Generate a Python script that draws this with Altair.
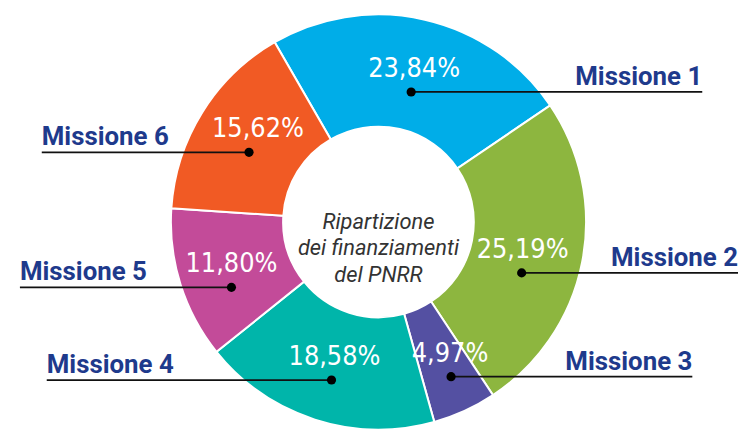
import math
import numpy as np
import pandas as pd
import altair as alt

# ---------------- data ----------------
missioni = ["Missione 1", "Missione 2", "Missione 3", "Missione 4", "Missione 5", "Missione 6"]
quote = [23.84, 25.19, 4.97, 18.58, 11.80, 15.62]
etichette = ["23,84%", "25,19%", "4,97%", "18,58%", "11,80%", "15,62%"]
colori = ["#00ADE8", "#8DB63F", "#5450A2", "#00B5AA", "#C34B99", "#F15A24"]
titolo_centro = ["Ripartizione", "dei finanziamenti", "del PNRR"]

# ---------------- layout (pixels) ----------------
W, H = 731, 415           # plot area
CX, CY = 373, 214         # donut centre inside plot area
R_OUT, R_IN = 209, 96
START_DEG = -30.0
punto_raggio = [135, 153, 172, 166, 162, 148]     # radius of leader dots
punto_scarto = [1.2, 8.4, -0.6, -1.3, -6.5, -3.6]  # angle shift from slice middle
pct_dx = [3, 1, -1, 3, 0, 9]
pct_dy = -23
linea_fine = [326, 362, 316, -334, -361, -339]     # outer end of leader lines

tot = sum(quote)
cum = np.cumsum([0] + quote[:-1])
mid = [START_DEG + 360 * (c + q / 2) / tot for c, q in zip(cum, quote)]
ang = [math.radians(m + s) for m, s in zip(mid, punto_scarto)]
px = [r * math.sin(a) for r, a in zip(punto_raggio, ang)]
py = [-r * math.cos(a) for r, a in zip(punto_raggio, ang)]

df = pd.DataFrame({
    "missione": missioni,
    "quota": quote,
    "etichetta": etichette,
    "ordine": list(range(len(missioni))),
    "px": px,
    "py": py,
    "tx": [x + d for x, d in zip(px, pct_dx)],
    "ty": [y + pct_dy for y in py],
    "lx1": [min(x, e) for x, e in zip(px, linea_fine)],
    "lx2": [max(x, e) for x, e in zip(px, linea_fine)],
    "labx": linea_fine,
    "laby": [y - 7 for y in py],
    "lato": ["destra" if e > 0 else "sinistra" for e in linea_fine],
})

xs = alt.Scale(domain=[-CX, W - CX], nice=False, zero=False)
ys = alt.Scale(domain=[-CY, H - CY], nice=False, zero=False, reverse=True)

start_rad = math.radians(START_DEG)

arcs = alt.Chart(df).mark_arc(
    innerRadius=R_IN, outerRadius=R_OUT, stroke="white", strokeWidth=2
).encode(
    theta=alt.Theta("quota:Q", stack=True,
                    scale=alt.Scale(range=[start_rad, start_rad + 2 * math.pi])),
    color=alt.Color("missione:N", scale=alt.Scale(domain=missioni, range=colori), legend=None),
    order=alt.Order("ordine:Q"),
    x=alt.XDatum(0, type="quantitative", scale=xs, axis=None),
    y=alt.YDatum(0, type="quantitative", scale=ys, axis=None),
)

rules = alt.Chart(df).mark_rule(color="#111111", strokeWidth=1.8).encode(
    x=alt.X("lx1:Q", scale=xs, axis=None),
    x2="lx2:Q",
    y=alt.Y("py:Q", scale=ys, axis=None),
)

dots = alt.Chart(df).mark_circle(size=85, color="black", opacity=1).encode(
    x=alt.X("px:Q", scale=xs, axis=None),
    y=alt.Y("py:Q", scale=ys, axis=None),
)

pct = alt.Chart(df).mark_text(
    font="Liberation Sans Narrow, DejaVu Sans Condensed, sans-serif",
    fontSize=27, color="white", align="center", baseline="middle"
).encode(
    x=alt.X("tx:Q", scale=xs, axis=None),
    y=alt.Y("ty:Q", scale=ys, axis=None),
    text="etichetta:N",
)

lab_style = dict(font="Roboto", fontWeight="bold", fontSize=26, color="#1E3A8C",
                 baseline="alphabetic")
lab_r = alt.Chart(df).transform_filter(alt.datum.lato == "destra").mark_text(
    align="right", **lab_style
).encode(
    x=alt.X("labx:Q", scale=xs, axis=None),
    y=alt.Y("laby:Q", scale=ys, axis=None),
    text="missione:N",
)
lab_l = alt.Chart(df).transform_filter(alt.datum.lato == "sinistra").mark_text(
    align="left", **lab_style
).encode(
    x=alt.X("labx:Q", scale=xs, axis=None),
    y=alt.Y("laby:Q", scale=ys, axis=None),
    text="missione:N",
)

centro = alt.Chart(pd.DataFrame({"k": [0]})).mark_text(
    text=titolo_centro, font="Roboto", fontStyle="italic", fontSize=22,
    lineHeight=26.5, color="#333333", align="center", baseline="middle"
).encode(
    x=alt.XDatum(0, type="quantitative", scale=xs, axis=None),
    y=alt.YDatum(0, type="quantitative", scale=ys, axis=None),
)

chart = alt.layer(arcs, rules, dots, pct, lab_r, lab_l, centro).properties(
    width=W, height=H, padding=0, background="white"
).configure_view(strokeWidth=0)

chart.save("out.html", embed_options={"renderer": "svg", "actions": False})
